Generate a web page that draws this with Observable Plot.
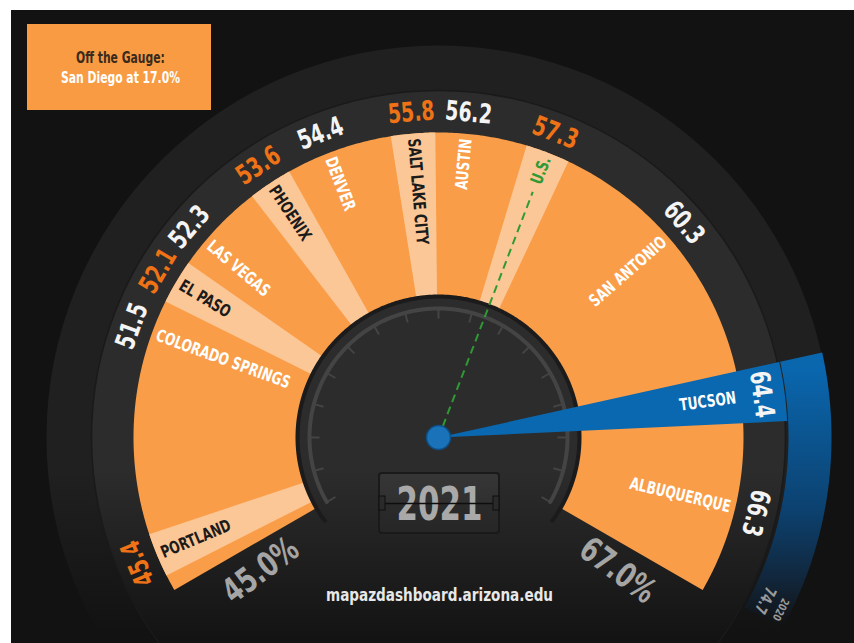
<!DOCTYPE html>
<html>
<head>
<meta charset="utf-8">
<script src="https://cdn.jsdelivr.net/npm/d3@7"></script>
<script src="https://cdn.jsdelivr.net/npm/@observablehq/plot@0.6"></script>
<style>
  body { margin: 0; background: #ffffff; }
  #chart svg { display: block; }
</style>
</head>
<body>
<div id="chart"></div>
<script>
// ---------------- data ----------------
const cities = ["Portland", "Colorado Springs", "El Paso", "Las Vegas", "Phoenix", "Denver",
                "Salt Lake City", "Austin", "U.S.", "San Antonio", "Tucson", "Albuquerque"];
const values = [45.4, 51.5, 52.1, 52.3, 53.6, 54.4, 55.8, 56.2, 57.3, 60.3, 64.4, 66.3];
const highlight = "Tucson";
const benchmark = "U.S.";
const gaugeMin = 45.0;
const gaugeMax = 67.0;
const year = "2021";
const priorYear = "2020";
const priorValue = 74.7;
const offCity = "San Diego";
const offValue = 17.0;
const source = "mapazdashboard.arizona.edu";

// non-linear gauge scale (angle in degrees, clockwise from 12 o'clock), as laid out in the original
const gaugeDomain = [gaugeMin, ...values, gaugeMax];
const gaugeAngles = [-120, -112.7, -70, -59.3, -49.8, -33.5, -21.2, -4.8, 5.3, 21, 48.8, 82.4, 103.4, 120];
const angle = Plot.scale({x: {type: "linear", domain: gaugeDomain, range: gaugeAngles}});
const A = v => angle.apply(v);

// ---------------- geometry helpers ----------------
const FONT = '"DejaVu Sans Condensed", "DejaVu Sans", sans-serif';
const cx = 438, cy = 437;
const R_ORANGE = 305, R_LABEL = 347, R_OUTER = 392, R_DIAL = 139;
const toRad = a => a * Math.PI / 180;
const px = (r, a) => cx + r * Math.sin(toRad(a));
const py = (r, a) => cy - r * Math.cos(toRad(a));
function sector(id, r0, r1, a0, a1) {
  const n = Math.max(2, Math.ceil(Math.abs(a1 - a0) / 0.5));
  const pts = [];
  for (let i = 0; i <= n; i++) { const a = a0 + (a1 - a0) * i / n; pts.push({id, x: px(r1, a), y: py(r1, a)}); }
  if (r0 <= 0) pts.push({id, x: cx, y: cy});
  else for (let i = n; i >= 0; i--) { const a = a0 + (a1 - a0) * i / n; pts.push({id, x: px(r0, a), y: py(r0, a)}); }
  return pts;
}
function arcLine(id, r, a0, a1) {
  const n = Math.max(2, Math.ceil(Math.abs(a1 - a0) / 0.5));
  return d3.range(n + 1).map(i => { const a = a0 + (a1 - a0) * i / n; return {id, x: px(r, a), y: py(r, a)}; });
}

const rows = cities.map((city, i) => ({city, value: values[i], i, a: A(values[i])}));
const isStripe = d => d.i % 2 === 0 && d.city !== highlight;
const stripeHalf = 4.2;
const stripes = rows.filter(isStripe).flatMap(d => sector(d.city, 0, R_ORANGE, d.a - stripeHalf, d.a + stripeHalf));
const aMin = A(gaugeMin), aMax = A(gaugeMax);
const base = sector("base", 0, R_ORANGE, aMin, aMax);
const hi = rows.find(d => d.city === highlight);
const hiWedge = sector("hi", 0, R_LABEL + 2, hi.a - 4.9, hi.a + 4.9);
const hiArc = sector("hiArc", R_LABEL + 3, R_OUTER + 1, hi.a - 4.9, aMax - 1);
const bm = rows.find(d => d.city === benchmark);
const dialBorder = arcLine("db", R_DIAL + 1.5, aMin - 6, aMax + 6);
const tickArc = arcLine("ta", 129, aMin, aMax);
const tickAngles = d3.range(aMin, aMax + 0.01, 15);
const center = [{x: cx, y: cy}];

const labelColor = d => d.city === benchmark ? "#2f9a35" : (isStripe(d) ? "#1b1b1b" : "#ffffff");
const valueColor = d => isStripe(d) ? "#ef7316" : "#f4f4f4";
const cityText = d => d.city === benchmark ? d.city : d.city.toUpperCase();
const leftRows = rows.filter(d => d.a < 0);
const rightRows = rows.filter(d => d.a >= 0);

const plot = Plot.plot({
  width: 854,
  height: 643,
  margin: 0,
  x: {type: "identity", axis: null},
  y: {type: "identity", axis: null},
  color: {type: "identity"},
  style: {background: "transparent"},
  marks: [
    // background
    Plot.rect([0], {x1: 11, x2: 854, y1: 10, y2: 643, fill: "#121212"}),
    // rings
    Plot.dot(center, {x: "x", y: "y", r: R_OUTER, fill: "url(#gOuter)", stroke: "none"}),
    Plot.dot(center, {x: "x", y: "y", r: R_LABEL, fill: "url(#gInner)", stroke: "#1a1a1a", strokeWidth: 1.5}),
    // orange gauge + stripes
    Plot.line(base, {x: "x", y: "y", z: "id", fill: "#fa9d48", stroke: "none"}),
    Plot.line(stripes, {x: "x", y: "y", z: "id", fill: "#fcc796", stroke: "none"}),
    // dial
    Plot.line(dialBorder, {x: "x", y: "y", z: "id", stroke: "#1b1b1b", strokeWidth: 5, fill: "none"}),
    Plot.dot(center, {x: "x", y: "y", r: R_DIAL, fill: "url(#gInner)", stroke: "none"}),
    Plot.line(tickArc, {x: "x", y: "y", z: "id", stroke: "#444444", strokeWidth: 4, fill: "none"}),
    Plot.link(tickAngles, {x1: a => px(128, a), y1: a => py(128, a), x2: a => px(119, a), y2: a => py(119, a), stroke: "#444444", strokeWidth: 2}),
    // year counter
    Plot.rect([0], {x1: 379, x2: 499, y1: 473, y2: 533, fill: "url(#gBox)", stroke: "#1a1a1a", strokeWidth: 2, rx: 3}),
    Plot.text([year], {x: 439, y: 504, text: d => d, fill: "#a9a9a9", fontSize: 47, fontWeight: "bold", fontFamily: FONT, ariaDescription: "sx:0.73"}),
    Plot.link([0], {x1: 381, x2: 497, y1: 503, y2: 503, stroke: "#0e0e0e", strokeWidth: 1.5}),
    Plot.rect([379, 493], {x1: d => d, x2: d => d + 6, y1: 496, y2: 510, fill: "#2a2a2a", stroke: "#0e0e0e", strokeWidth: 1}),
    // highlighted city wedge and its prior-year arc
    Plot.line(hiArc, {x: "x", y: "y", z: "id", fill: "url(#gBlue)", stroke: "none"}),
    Plot.line(hiWedge, {x: "x", y: "y", z: "id", fill: "#0a68b0", stroke: "none"}),
    // benchmark needle
    Plot.link([bm], {x1: d => px(12, d.a), y1: d => py(12, d.a), x2: d => px(263, d.a), y2: d => py(263, d.a),
      stroke: "#2f9a35", strokeWidth: 2, strokeDasharray: "8,5"}),
    Plot.dot(center, {x: "x", y: "y", r: 12, fill: "#1a72b8", stroke: "#0d4f85", strokeWidth: 1.5}),
    // value labels
    Plot.text(rows, {x: d => px(326, d.a), y: d => py(326, d.a), rotate: d => d.a, text: d => d.value.toFixed(1),
      fill: valueColor, fontSize: 27, fontWeight: "bold", fontFamily: FONT, ariaDescription: "sx:0.78"}),
    // city labels
    Plot.text(leftRows, {x: d => px(300, d.a), y: d => py(300, d.a), rotate: d => d.a + 90, text: cityText,
      textAnchor: "start", fill: labelColor, fontSize: 17, fontWeight: "bold", fontFamily: FONT, ariaDescription: "sx:0.8"}),
    Plot.text(rightRows, {x: d => px(300, d.a), y: d => py(300, d.a), rotate: d => d.a - 90, text: cityText,
      textAnchor: "end", fill: labelColor, fontSize: 17, fontWeight: "bold", fontFamily: FONT, ariaDescription: "sx:0.8"}),
    // gauge ends
    Plot.text([gaugeMin], {x: v => px(222, A(v) - 6.8), y: v => py(222, A(v) - 6.8), rotate: v => A(v) - 6.8 + 90,
      text: v => v.toFixed(1) + "%", fill: "#a5a5a5", fontSize: 34, fontWeight: "bold", fontFamily: FONT, ariaDescription: "sx:0.8"}),
    Plot.text([gaugeMax], {x: v => px(223, A(v) + 6.6), y: v => py(223, A(v) + 6.6), rotate: v => A(v) + 6.6 - 90,
      text: v => v.toFixed(1) + "%", fill: "#a5a5a5", fontSize: 34, fontWeight: "bold", fontFamily: FONT, ariaDescription: "sx:0.8"}),
    // prior year value (off the gauge)
    Plot.text([priorValue], {x: () => px(365, aMax - 3.5), y: () => py(365, aMax - 3.5), rotate: aMax - 3.5,
      text: v => v.toFixed(1), fill: "#9a9a9a", fontSize: 16, fontWeight: "bold", fontFamily: FONT, ariaDescription: "sx:0.8"}),
    Plot.text([priorYear], {x: () => px(383, aMax - 3.3), y: () => py(383, aMax - 3.3), rotate: aMax - 3.3,
      text: d => d, fill: "#9a9a9a", fontSize: 11, fontWeight: "bold", fontFamily: FONT, ariaDescription: "sx:0.85"}),
    // off-the-gauge box
    Plot.rect([0], {x1: 27, x2: 211, y1: 24, y2: 110, fill: "#f89b43"}),
    Plot.text(["Off the Gauge:"], {x: 120, y: 58, text: d => d, fill: "#3a2a1c", fontSize: 15, fontWeight: "bold", fontFamily: FONT, ariaDescription: "sx:0.8"}),
    Plot.text([offValue], {x: 120, y: 78, text: v => `${offCity} at ${v.toFixed(1)}%`, fill: "#ffffff", fontSize: 15, fontWeight: "bold", fontFamily: FONT, ariaDescription: "sx:0.8"}),
    // source
    Plot.text([source], {x: 439, y: 595, text: d => d, fill: "#e8e8e8", fontSize: 18, fontWeight: "bold", fontFamily: FONT, ariaDescription: "sx:0.84"})
  ]
});

// gradients
const svg = d3.select(plot);
const defs = svg.insert("defs", ":first-child");
function grad(id, y1, y2, stops) {
  const g = defs.append("linearGradient").attr("id", id).attr("gradientUnits", "userSpaceOnUse")
    .attr("x1", 0).attr("x2", 0).attr("y1", y1).attr("y2", y2);
  stops.forEach(([o, c]) => g.append("stop").attr("offset", o).attr("stop-color", c));
}
grad("gOuter", 470, 635, [[0, "#202020"], [1, "#121212"]]);
grad("gInner", 470, 640, [[0, "#2c2c2c"], [1, "#131313"]]);
grad("gBlue", 370, 625, [[0, "#0a66ad"], [0.55, "#0c416f"], [0.82, "#11263b"], [1, "#121212"]]);
grad("gBox", 473, 533, [[0, "#363636"], [0.5, "#303030"], [0.5, "#2b2b2b"], [1, "#262626"]]);

// condensed lettering: compress each text horizontally along its own baseline
svg.selectAll("g[aria-description]").each(function() {
  const m = /^sx:(.*)$/.exec(this.getAttribute("aria-description") || "");
  if (!m) return;
  const s = +m[1];
  d3.select(this).selectAll("text").each(function() {
    const tr = this.getAttribute("transform") || "";
    this.setAttribute("transform", `${tr} scale(${s},1)`);
    const x = this.getAttribute("x");
    if (x != null && /^-?[\d.]+$/.test(x)) this.setAttribute("x", +x / s);
  });
});

document.getElementById("chart").append(plot);
</script>
</body>
</html>
